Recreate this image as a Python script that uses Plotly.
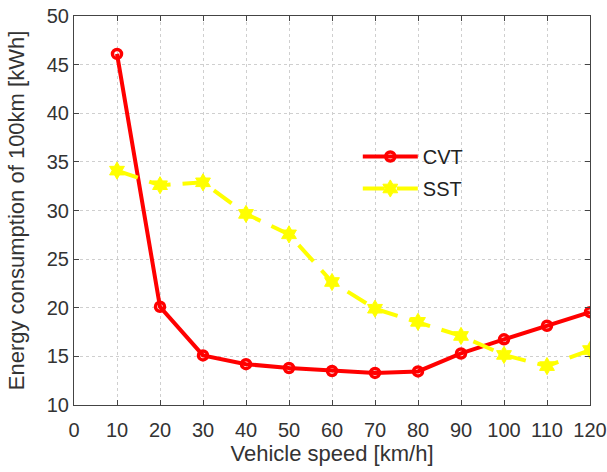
import plotly.graph_objects as go

speeds = [10, 20, 30, 40, 50, 60, 70, 80, 90, 100, 110, 120]
cvt = [46.1, 20.1, 15.1, 14.2, 13.8, 13.5, 13.3, 13.45, 15.3, 16.75, 18.15, 19.55]
sst = [34.1, 32.6, 32.9, 29.65, 27.55, 22.65, 19.9, 18.55, 17.1, 15.15, 14.0, 15.65]
x_ticks = list(range(0, 121, 10))
y_ticks = list(range(10, 51, 5))

FONT = "Liberation Sans, Arial, sans-serif"

fig = go.Figure()
fig.add_trace(go.Scatter(
    x=speeds, y=cvt, name="CVT", mode="lines+markers", legendgroup="a",
    line=dict(color="#FF0000", width=4),
    marker=dict(symbol="circle-open", size=9, color="#FF0000", line=dict(width=3.5, color="#FF0000")),
))
fig.add_trace(go.Scatter(
    x=speeds, y=sst, name="SST", mode="lines+markers", legendgroup="b",
    line=dict(color="#FFFF00", width=4, dash="22px,12px"),
    marker=dict(symbol="hexagram", size=13, color="#FFFF00", line=dict(width=1, color="#FFFF00")),
))

axis_common = dict(
    showline=True, linecolor="#444444", linewidth=1, mirror="ticks",
    ticks="inside", ticklen=5, tickcolor="#444444",
    showgrid=True, gridcolor="#cfcfcf", griddash="3px,3px", gridwidth=1,
    zeroline=False, automargin=False,
    tickfont=dict(family=FONT, size=20, color="#333333"),
    title_font=dict(family=FONT, size=22, color="#333333"),
)

fig.update_layout(
    width=607, height=472,
    margin=dict(l=74, r=17, t=16, b=67),
    paper_bgcolor="white", plot_bgcolor="white",
    showlegend=True,
    legend=dict(x=0.55, y=0.689, xanchor="left", yanchor="top",
                bgcolor="rgba(0,0,0,0)", font=dict(family=FONT, size=20, color="#222222"),
                itemwidth=55, tracegroupgap=3),
    xaxis=dict(range=[0, 120], tickvals=x_ticks, ticklabelstandoff=7,
               title=dict(text="Vehicle speed [km/h]", standoff=5), **axis_common),
    yaxis=dict(range=[10, 50], tickvals=y_ticks,
               title=dict(text="Energy consumption of 100km [kWh]", standoff=16), **axis_common),
)

fig.write_html("out.html", config={"displayModeBar": False},
               post_script="document.body.style.margin='0';document.body.style.overflow='hidden';")
